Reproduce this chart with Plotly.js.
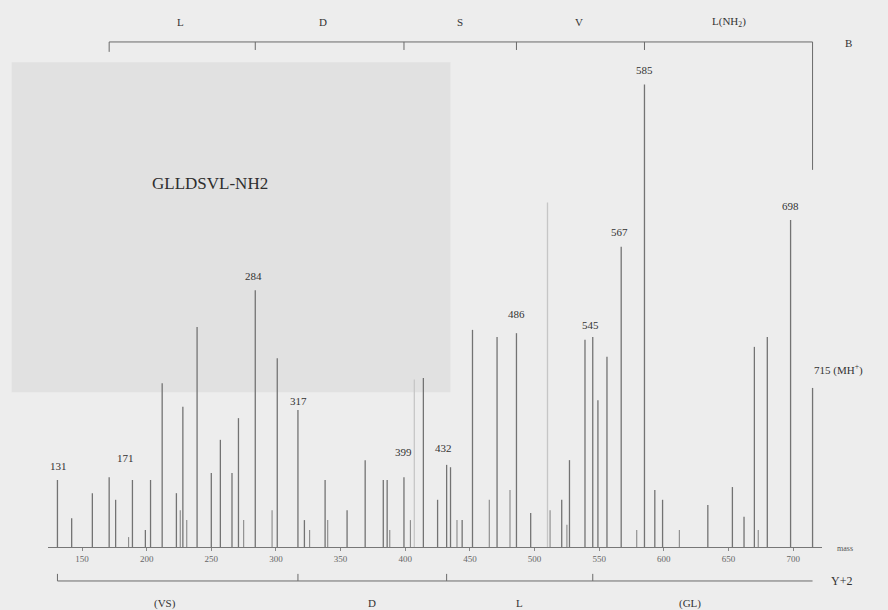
<!DOCTYPE html>
<html><head><meta charset="utf-8">
<script src="https://cdn.plot.ly/plotly-3.0.1.min.js"></script>
<style>html,body{margin:0;padding:0;background:#ededed;} #chart{width:888px;height:610px;}</style>
</head><body><div id="chart"></div>
<script>
// ---- data ----
const peakMass = [131,142,158,171,176,189,199,203,212,223,228,239,250,257,266,271,284,301,317,322,338,355,369,383,386,399,414,425,432,435,444,452,471,486,497,521,527,539,545,549,556,567,585,593,599,634,653,662,670,680,698,715];
const peakInt  = [14.2,6.1,11.4,14.8,10.0,14.2,3.6,14.2,34.7,11.4,29.7,46.6,15.7,22.7,15.7,27.3,54.4,40.0,29.0,5.7,14.2,7.8,18.4,14.2,14.2,14.8,35.8,10.0,17.4,16.9,5.7,46.0,44.5,45.3,7.2,10.0,18.4,43.9,44.5,31.1,40.3,63.6,98,12.1,10.0,8.9,12.7,6.4,42.4,44.5,69.3,33.7];
const smallMass = [186,226,231,275,297,326,340,388,404,440,465,481,512,525,579,612,673];
const smallInt  = [2.1,7.8,5.7,5.7,7.8,3.6,5.7,3.6,5.7,5.7,10.0,12.1,7.8,4.7,3.6,3.6,3.6];
const faintMass = [407,510];
const faintInt  = [35.5,73];
const labelMass = [131,171,284,317,399,432,486,545,567,585,698,715];
const labelText = ['131','171','284','317','399','432','486','545','567','585','698','715 (MH<sup>+</sup>)'];
const bIons = [171,284,399,486,585,715];
const bResidues = ['L','D','S','V','L(NH<sub>2</sub>)'];
const bResiduePos = [226,336,442,534,650];
const yIons = [131,317,432,545,715];
const yResidues = ['(VS)','D','L','(GL)'];
const yResiduePos = [214,374,488,620];
const xTicks = [150,200,250,300,350,400,450,500,550,600,650,700];

// ---- style ----
const serif = 'Liberation Serif, DejaVu Serif, serif';
const labelOffsets = {131:[1,14],171:[16,19],284:[-2,14],317:[1,9],399:[0,25],432:[-3,17],486:[0,19],545:[-2,12],567:[-2,15],585:[0,14],698:[0,14],715:[-1,18]};
const ladderY = {top:107.0, topTick:105.3, topEnd:104.9, topRightEnd:79.9, topLabel:111.2,
                 bot:-7.2, botTick:-5.7, botLabel:-11.9};
const ladderColor = '#6a6a6a';

const traces = [
  {type:'bar', x:faintMass, y:faintInt, width:1.0, marker:{color:'#c6c6c6', line:{width:0}}, hoverinfo:'skip'},
  {type:'bar', x:smallMass, y:smallInt, width:0.9, marker:{color:'#8e8e8e', line:{width:0}}, hoverinfo:'skip'},
  {type:'bar', x:peakMass, y:peakInt, width:1.0, marker:{color:'#737373', line:{width:0}}, hoverinfo:'skip'}
];

const shapes = [
  {type:'rect', xref:'paper', yref:'paper', x0:-0.047, x1:0.52, y0:0.357, y1:0.898, fillcolor:'#e1e1e1', line:{width:0}, layer:'below'}
];
// top (B) ladder
shapes.push({type:'line', xref:'x', yref:'y', x0:bIons[0], x1:bIons[bIons.length-1], y0:ladderY.top, y1:ladderY.top, line:{color:ladderColor, width:1}});
bIons.forEach((m,i)=>{
  let yEnd = ladderY.topTick;
  if (i===0) yEnd = ladderY.topEnd;
  if (i===bIons.length-1) yEnd = ladderY.topRightEnd;
  shapes.push({type:'line', xref:'x', yref:'y', x0:m, x1:m, y0:ladderY.top, y1:yEnd, line:{color:ladderColor, width:1}});
});
// bottom (Y+2) ladder
shapes.push({type:'line', xref:'x', yref:'y', x0:yIons[0], x1:yIons[yIons.length-1], y0:ladderY.bot, y1:ladderY.bot, line:{color:ladderColor, width:1}});
yIons.slice(0,-1).forEach(m=>{
  shapes.push({type:'line', xref:'x', yref:'y', x0:m, x1:m, y0:ladderY.bot, y1:ladderY.botTick, line:{color:ladderColor, width:1}});
});

const annotations = [];
const intOf = m => { const i = peakMass.indexOf(m); return peakInt[i]; };
labelMass.forEach((m,i)=>{
  const off = labelOffsets[m];
  const isMH = (m===715);
  annotations.push({x:m, y:intOf(m), xref:'x', yref:'y', text:labelText[i], showarrow:false,
    xanchor: isMH ? 'left' : 'center', yanchor:'middle', xshift:off[0], yshift:off[1],
    font:{family:serif, size:11, color:'#333'}});
});
bResidues.forEach((t,i)=>{
  annotations.push({x:bResiduePos[i], y:ladderY.topLabel, xref:'x', yref:'y', text:t, showarrow:false,
    yanchor:'middle', font:{family:serif, size:11, color:'#333'}});
});
yResidues.forEach((t,i)=>{
  annotations.push({x:yResiduePos[i], y:ladderY.botLabel, xref:'x', yref:'y', text:t, showarrow:false,
    yanchor:'middle', font:{family:serif, size:11, color:'#333'}});
});
const paperNote = (x,y,text,size,color) => ({xref:'paper', yref:'paper', x:x, y:y, xanchor:'center', yanchor:'middle',
  text:text, showarrow:false, font:{family:serif, size:size, color:color}});
annotations.push(paperNote(1.0336, 0.9295, 'B', 11, '#333'));
annotations.push(paperNote(1.0258, 0.0475, 'Y+2', 12, '#333'));
annotations.push(paperNote(1.0297, 0.1016, 'mass', 8, '#555'));
annotations.push(paperNote(0.2093, 0.70, 'GLLDSVL-NH2', 17, '#2e2e2e'));

const layout = {
  width:888, height:610,
  margin:{l:48, r:66, t:0, b:0},
  paper_bgcolor:'#ededed', plot_bgcolor:'rgba(0,0,0,0)',
  showlegend:false, barmode:'overlay',
  xaxis:{range:[123.7,722.3], anchor:'free', position:0.1033, showline:true, linecolor:'#777', linewidth:1,
    ticks:'outside', ticklen:3, tickcolor:'#888', tickvals:xTicks, ticktext:xTicks.map(String),
    tickfont:{family:serif, size:9, color:'#666'}, showgrid:false, zeroline:false, automargin:false},
  yaxis:{range:[-13.35,115.89], visible:false, showgrid:false, zeroline:false, automargin:false},
  shapes:shapes, annotations:annotations
};
Plotly.newPlot('chart', traces, layout, {staticPlot:true, displayModeBar:false});
</script></body></html>
